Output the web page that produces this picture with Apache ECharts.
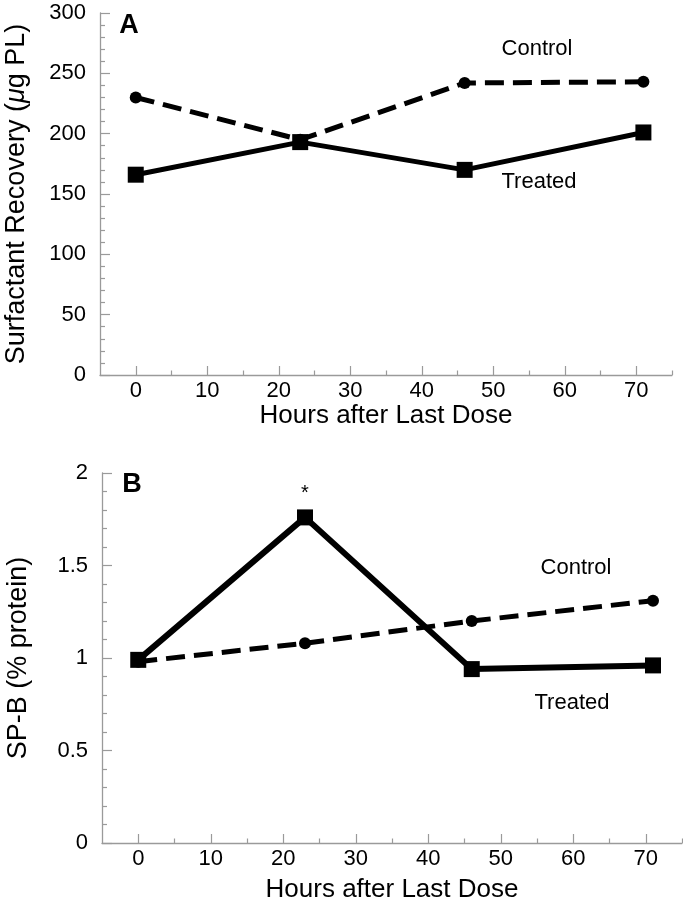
<!DOCTYPE html>
<html>
<head>
<meta charset="utf-8">
<script src="https://cdn.jsdelivr.net/npm/echarts@6/dist/echarts.min.js"></script>
<style>
html,body{margin:0;padding:0;background:#fff;}
#chart{width:683px;height:916px;}
</style>
</head>
<body>
<div id="chart"></div>
<script>
// ---- data ----
const hours = [0, 23, 46, 71];
const controlA = [230, 195, 242, 243];
const treatedA = [166, 193, 170, 201];
const controlB = [0.98, 1.08, 1.2, 1.31];
const treatedB = [0.99, 1.76, 0.94, 0.96];
const xMajorTicks = [0, 10, 20, 30, 40, 50, 60, 70];
const xMinorTicks = [5, 15, 25, 35, 45, 55, 65, 75];
const xTitle = 'Hours after Last Dose';
const yTitleA = 'Surfactant Recovery ({i|μ}g PL)';
const yTitleB = 'SP-B (% protein)';
const sigMark = '*';

const FONT = '"Liberation Sans", Arial, Helvetica, sans-serif';
const AXC = '#9a9a9a';

function pairs(xs, ys) { return xs.map((x, i) => [x, ys[i]]); }

function mainX(gi, gap) {
  return {
    type: 'value', gridIndex: gi, min: -5, max: 75, position: 'bottom',
    axisLine: { show: true, onZero: false, lineStyle: { color: AXC, width: 1.3 } },
    axisTick: { show: true, inside: true, length: 9, customValues: xMajorTicks, lineStyle: { color: AXC, width: 1.2 } },
    axisLabel: { customValues: xMajorTicks, color: '#000', fontSize: 22, fontFamily: FONT, margin: 5 },
    splitLine: { show: false },
    name: xTitle, nameLocation: 'middle', nameGap: gap,
    nameTextStyle: { color: '#000', fontSize: 26, fontFamily: FONT }
  };
}
function minorX(gi) {
  return {
    type: 'value', gridIndex: gi, min: -5, max: 75, position: 'bottom',
    axisLine: { show: false, onZero: false },
    axisTick: { show: true, inside: true, length: 4.5, customValues: xMinorTicks, lineStyle: { color: AXC, width: 1.2 } },
    axisLabel: { show: false, customValues: xMinorTicks },
    splitLine: { show: false }
  };
}
function mainY(gi, max, interval, name, gap) {
  return {
    type: 'value', gridIndex: gi, min: 0, max: max, interval: interval, position: 'left',
    axisLine: { show: true, onZero: false, lineStyle: { color: AXC, width: 1.3 } },
    axisTick: { show: true, inside: true, length: 10, lineStyle: { color: AXC, width: 1.2 } },
    minorTick: { show: true, splitNumber: 5, length: 5, lineStyle: { color: AXC, width: 1.2 } },
    axisLabel: { color: '#000', fontSize: 22, fontFamily: FONT, margin: 14 },
    splitLine: { show: false }, minorSplitLine: { show: false },
    name: name, nameLocation: 'middle', nameRotate: 90, nameGap: gap,
    nameTextStyle: { color: '#000', fontSize: 27, fontFamily: FONT,
      rich: { i: { fontStyle: 'italic', fontSize: 27, fontFamily: FONT, color: '#000' } } }
  };
}

function ctrlSeries(xi, yi, data) {
  return {
    type: 'line', xAxisIndex: xi, yAxisIndex: yi, data: data,
    symbol: 'circle', symbolSize: 12, z: 2,
    lineStyle: { color: '#000', width: 5, type: [19, 9] },
    itemStyle: { color: '#000' }, animation: false, silent: true
  };
}
function trtSeries(xi, yi, data, w) {
  return {
    type: 'line', xAxisIndex: xi, yAxisIndex: yi, data: data,
    symbol: 'rect', symbolSize: 16, z: 3,
    lineStyle: { color: '#000', width: w },
    itemStyle: { color: '#000' }, animation: false, silent: true
  };
}

const bTreated = pairs(hours, treatedB).map((p, i) => i === 1 ? {
  value: p,
  label: { show: true, position: 'top', distance: 6, formatter: sigMark, color: '#000', fontSize: 20, fontFamily: FONT }
} : p);

const option = {
  animation: false,
  backgroundColor: '#fff',
  grid: [
    { left: 100, top: 13, width: 572, height: 362, outerBoundsMode: 'none', containLabel: false },
    { left: 102, top: 473, width: 580, height: 370, outerBoundsMode: 'none', containLabel: false }
  ],
  xAxis: [mainX(0, 19), mainX(1, 34), minorX(0), minorX(1)],
  yAxis: [mainY(0, 300, 50, yTitleA, 70), mainY(1, 2, 0.5, yTitleB, 70)],
  series: [
    ctrlSeries(0, 0, pairs(hours, controlA)),
    trtSeries(0, 0, pairs(hours, treatedA), 5),
    ctrlSeries(1, 1, pairs(hours, controlB)),
    trtSeries(1, 1, bTreated, 6)
  ],
  graphic: [
    { type: 'text', x: 129, y: 26, style: { text: 'A', fill: '#000', font: 'bold 27px ' + FONT, align: 'center', verticalAlign: 'middle' } },
    { type: 'text', x: 132, y: 485, style: { text: 'B', fill: '#000', font: 'bold 27px ' + FONT, align: 'center', verticalAlign: 'middle' } },
    { type: 'text', x: 537, y: 49, style: { text: 'Control', fill: '#000', font: '22px ' + FONT, align: 'center', verticalAlign: 'middle' } },
    { type: 'text', x: 539, y: 182, style: { text: 'Treated', fill: '#000', font: '22px ' + FONT, align: 'center', verticalAlign: 'middle' } },
    { type: 'text', x: 576, y: 568, style: { text: 'Control', fill: '#000', font: '22px ' + FONT, align: 'center', verticalAlign: 'middle' } },
    { type: 'text', x: 572, y: 703, style: { text: 'Treated', fill: '#000', font: '22px ' + FONT, align: 'center', verticalAlign: 'middle' } }
  ]
};

const chart = echarts.init(document.getElementById('chart'), null, { renderer: 'canvas' });
chart.setOption(option);
</script>
</body>
</html>
